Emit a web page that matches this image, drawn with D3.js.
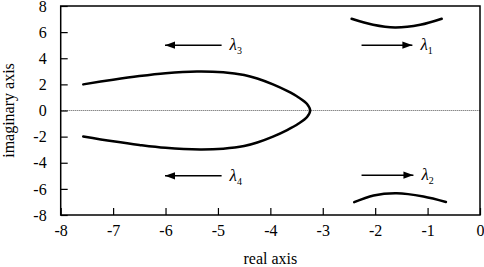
<!DOCTYPE html>
<html>
<head>
<meta charset="utf-8">
<script src="https://cdn.jsdelivr.net/npm/d3@7"></script>
<style>
  body { margin: 0; background: #fff; }
  svg text { font-family: "Liberation Serif", "Times New Roman", serif; fill: #000; }
</style>
</head>
<body>
<svg id="chart"></svg>
<script>
// size
const width = 484;
const height = 267;

// plot box
const margin = { top: 6, right: 4, bottom: 52, left: 60.7 };

// axis ticks
const xTicks = [-8, -7, -6, -5, -4, -3, -2, -1, 0];
const yTicks = [-8, -6, -4, -2, 0, 2, 4, 6, 8];

// eigenvalue loci (real, imaginary)
const loop34 = [
    [-7.57, 2.0], [-7.0, 2.36], [-6.5, 2.64], [-6.0, 2.86], [-5.4, 2.99],
    [-4.9, 2.93], [-4.5, 2.72], [-4.25, 2.45], [-3.95, 2.0], [-3.68, 1.5],
    [-3.46, 1.0], [-3.3, 0.5], [-3.24, 0.0],
    [-3.3, -0.5], [-3.46, -1.0], [-3.68, -1.5], [-3.95, -2.0], [-4.25, -2.45],
    [-4.5, -2.72], [-4.9, -2.92], [-5.34, -2.98], [-6.0, -2.86], [-6.5, -2.64],
    [-7.0, -2.36], [-7.57, -1.99]
];
const locus1 = [[-2.45, 7.02], [-2.04, 6.56], [-1.62, 6.36], [-1.14, 6.56], [-0.73, 7.02]];
const locus2 = [[-2.4, -7.02], [-2.03, -6.5], [-1.59, -6.33], [-1.08, -6.58], [-0.65, -7.0]];

// direction arrows: tail -> tip, and the subscript of lambda
const arrows = [
    { from: -4.93, to: -6.01, y: 5, sub: "3" },
    { from: -2.26, to: -1.29, y: 5, sub: "1" },
    { from: -4.93, to: -6.01, y: -5, sub: "4" },
    { from: -2.26, to: -1.27, y: -4.95, sub: "2" }
];

const svg = d3.select("#chart")
    .attr("width", width)
    .attr("height", height);

svg.append("defs").append("marker")
    .attr("id", "head")
    .attr("viewBox", "0 0 10 8")
    .attr("refX", 10)
    .attr("refY", 4)
    .attr("markerWidth", 10)
    .attr("markerHeight", 8)
    .attr("markerUnits", "userSpaceOnUse")
    .attr("orient", "auto")
    .append("path")
    .attr("d", "M0,0.4 L10,4 L0,7.6 Z")
    .attr("fill", "#000");

const x = d3.scaleLinear().domain([-8, 0]).range([margin.left, width - margin.right]);
const y = d3.scaleLinear().domain([-8, 8]).range([height - margin.bottom, margin.top]);

// dotted zero line
svg.append("line")
    .attr("x1", x(-8)).attr("x2", x(0))
    .attr("y1", y(0)).attr("y2", y(0))
    .attr("stroke", "#555")
    .attr("stroke-width", 1)
    .attr("stroke-dasharray", "1,1");

// axes with inward ticks
const xAxis = d3.axisBottom(x)
    .tickValues(xTicks)
    .tickSizeInner(-7)
    .tickSizeOuter(0)
    .tickPadding(10)
    .tickFormat(d => String(d));
const yAxis = d3.axisLeft(y)
    .tickValues(yTicks)
    .tickSizeInner(-7)
    .tickSizeOuter(0)
    .tickPadding(14)
    .tickFormat(d => String(d));

const gx = svg.append("g")
    .attr("transform", `translate(0,${y(-8)})`)
    .call(xAxis);
const gy = svg.append("g")
    .attr("transform", `translate(${x(-8)},0)`)
    .call(yAxis);

[gx, gy].forEach(g => {
    g.attr("font-family", null).attr("font-size", null);
    g.select(".domain").remove();
    g.selectAll(".tick line").attr("stroke", "#000").attr("stroke-width", 1.2);
    g.selectAll(".tick text")
        .style("font-family", "'Liberation Serif', serif")
        .style("font-size", "16px")
        .attr("fill", "#000");
});

// frame
svg.append("rect")
    .attr("x", x(-8)).attr("y", y(8))
    .attr("width", x(0) - x(-8))
    .attr("height", y(-8) - y(8))
    .attr("fill", "none")
    .attr("stroke", "#000")
    .attr("stroke-width", 1.5);

// loci
const line = d3.line()
    .x(d => x(d[0]))
    .y(d => y(d[1]))
    .curve(d3.curveCatmullRom.alpha(0.5));

svg.selectAll("path.locus")
    .data([loop34, locus1, locus2])
    .enter()
    .append("path")
    .attr("class", "locus")
    .attr("d", line)
    .attr("fill", "none")
    .attr("stroke", "#000")
    .attr("stroke-width", 2.5)
    .attr("stroke-linecap", "round");

// arrows
svg.selectAll("line.arrow")
    .data(arrows)
    .enter()
    .append("line")
    .attr("class", "arrow")
    .attr("x1", d => x(d.from))
    .attr("x2", d => x(d.to))
    .attr("y1", d => y(d.y))
    .attr("y2", d => y(d.y))
    .attr("stroke", "#000")
    .attr("stroke-width", 1.5)
    .attr("marker-end", "url(#head)");

const labels = svg.selectAll("text.lambda")
    .data(arrows)
    .enter()
    .append("text")
    .attr("class", "lambda")
    .attr("x", d => x(Math.max(d.from, d.to)) + 8)
    .attr("y", d => y(d.y) + 5)
    .style("font-size", "17px");
labels.append("tspan")
    .style("font-style", "italic")
    .text("λ");
labels.append("tspan")
    .style("font-size", "10px")
    .attr("dy", 4)
    .text(d => d.sub);

// axis labels
svg.append("text")
    .attr("text-anchor", "middle")
    .attr("x", (x(-8) + x(0)) / 2)
    .attr("y", 264)
    .style("font-size", "16px")
    .text("real axis");
svg.append("text")
    .attr("text-anchor", "middle")
    .attr("transform", `translate(14, ${y(0)}) rotate(-90)`)
    .style("font-size", "16px")
    .text("imaginary axis");
</script>
</body>
</html>
